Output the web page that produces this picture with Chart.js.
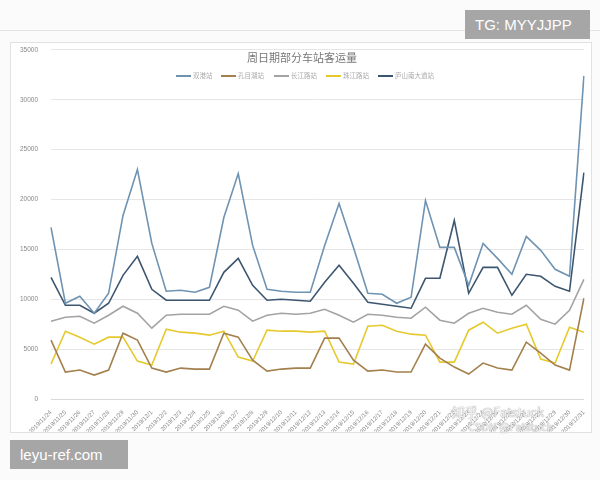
<!DOCTYPE html>
<html>
<head>
<meta charset="utf-8">
<script src="https://cdn.jsdelivr.net/npm/chart.js@4"></script>
<style>
  body { margin: 0; background: #fbfbfb; width: 600px; height: 480px; position: relative; overflow: hidden; font-family: "Noto Sans CJK SC", "Noto Sans", sans-serif; }
  #frame { position: absolute; left: 10px; top: 42px; width: 582px; height: 391px; background: #fff; border: 1px solid #e2e2e2; box-sizing: border-box; }
  #chart { position: absolute; left: 0; top: -10px; }
  #topline { position: absolute; left: 0; top: 30px; width: 600px; height: 1px; background: #e4e4e4; }
  .tag { position: absolute; background: #a6a6a6; color: #fff; font-family: "Liberation Sans", "DejaVu Sans", sans-serif; font-size: 15px; line-height: 29px; padding: 0 10px; }
  .mark { position: absolute; color: rgba(255,255,255,0.85); text-shadow: 0 0 1px #999, 0 0 1px #999; font-size: 13px; }
</style>
</head>
<body>
<div id="topline"></div>
<div id="frame"><canvas id="chart" width="580" height="399"></canvas></div>
<div class="tag" style="left:465px; top:10px; width:105px;">TG: MYYJJPP</div>
<div class="tag" style="left:10px; top:440px; width:98px;">leyu-ref.com</div>
<div class="mark" style="left:452px; top:402px;">知乎 @Fatstuck</div>
<div class="mark" style="left:468px; top:418px; font-size:11px;">CSDN @Fatstuck</div>
<script>
// dates on x axis
const dates = [
    '2019/11/24', '2019/11/25', '2019/11/26', '2019/11/27', '2019/11/28', '2019/11/29', '2019/11/30',
    '2019/12/1', '2019/12/2', '2019/12/3', '2019/12/4', '2019/12/5', '2019/12/6', '2019/12/7',
    '2019/12/8', '2019/12/9', '2019/12/10', '2019/12/11', '2019/12/12', '2019/12/13', '2019/12/14',
    '2019/12/15', '2019/12/16', '2019/12/17', '2019/12/18', '2019/12/19', '2019/12/20', '2019/12/21',
    '2019/12/22', '2019/12/23', '2019/12/24', '2019/12/25', '2019/12/26', '2019/12/27', '2019/12/28',
    '2019/12/29', '2019/12/30', '2019/12/31'
];

const stationNames = ['双港站', '孔目湖站', '长江路站', '珠江路站', '庐山南大道站'];

// passenger counts per station
const shuanggang = [17200, 9600, 10300, 8600, 10600, 18400, 23000, 15600, 10800, 10900, 10700, 11200, 18200, 22600,
    15400, 11000, 10800, 10700, 10700, 15400, 19600, 15200, 10600, 10500, 9600, 10200, 19900, 15200,
    15200, 11400, 15600, 14100, 12500, 16300, 14900, 13000, 12300, 32400];
const kongmuhu = [5900, 2700, 2900, 2400, 2900, 6600, 5900, 3100, 2700, 3100, 3000, 3000, 6600, 6200,
    3900, 2800, 3000, 3100, 3100, 6100, 6100, 3900, 2800, 2900, 2700, 2700, 5500, 4100,
    3200, 2500, 3600, 3100, 2900, 5700, 4600, 3400, 2900, 10100];
const changjianglu = [7800, 8200, 8300, 7600, 8400, 9300, 8600, 7100, 8400, 8500, 8500, 8500, 9300, 8900,
    7800, 8400, 8600, 8500, 8600, 9000, 8400, 7700, 8500, 8400, 8200, 8100, 9200, 7900,
    7600, 8600, 9100, 8700, 8500, 9400, 8000, 7500, 8900, 12000];
const zhujianglu = [3500, 6800, 6200, 5500, 6200, 6200, 3800, 3400, 7000, 6700, 6600, 6400, 6800, 4200,
    3800, 6900, 6800, 6800, 6700, 6800, 3700, 3500, 7300, 7400, 6800, 6500, 6400, 3700,
    3700, 6900, 7700, 6600, 7100, 7500, 4000, 3600, 7200, 6700];
const lushannan = [12200, 9400, 9400, 8600, 9600, 12400, 14300, 11000, 9900, 9900, 9900, 9900, 12700, 14100,
    11400, 9900, 10000, 9900, 9800, 11700, 13400, 11600, 9700, 9500, 9300, 9100, 12100, 12100,
    17900, 10600, 13200, 13200, 10400, 12500, 12300, 11300, 10800, 22700];

const yTicks = [0, 5000, 10000, 15000, 20000, 25000, 30000, 35000];

const seriesValues = [shuanggang, kongmuhu, changjianglu, zhujianglu, lushannan];
const colors = ['#6f93b2', '#a3804e', '#a3a3a3', '#e6c92e', '#3d5670'];

// title and legend sit inside the plot area like in excel
const overlayTitle = {
    id: 'overlayTitle',
    afterDraw(chart) {
        const ctx = chart.ctx;
        ctx.save();
        ctx.fillStyle = '#777';
        ctx.font = '11px "Noto Sans CJK SC"';
        ctx.textAlign = 'center';
        ctx.textBaseline = 'middle';
        ctx.fillText('周日期部分车站客运量', 291, 25);

        const starts = [165, 210, 263, 315, 367];
        ctx.font = '6.5px "Noto Sans CJK SC"';
        ctx.textAlign = 'left';
        chart.data.datasets.forEach((ds, i) => {
            ctx.strokeStyle = ds.borderColor;
            ctx.lineWidth = 2;
            ctx.beginPath();
            ctx.moveTo(starts[i], 43);
            ctx.lineTo(starts[i] + 15, 43);
            ctx.stroke();
            ctx.fillStyle = '#aaa';
            ctx.fillText(ds.label, starts[i] + 17, 43);
        });
        ctx.restore();
    }
};

const myChart = document.getElementById('chart');

let chart = new Chart(myChart, {
    type: 'line',
    data: {
        labels: dates,
        datasets: stationNames.map((name, i) => ({
            label: name,
            data: seriesValues[i],
            borderColor: colors[i],
            backgroundColor: colors[i],
            borderWidth: 1.6,
            pointRadius: 0,
            tension: 0
        }))
    },
    options: {
        responsive: false,
        animation: false,
        layout: { padding: { top: 0, right: 7, left: 0, bottom: 0 } },
        plugins: {
            legend: { display: false },
            title: { display: false },
            tooltip: { enabled: false }
        },
        scales: {
            x: {
                offset: false,
                grid: { display: false },
                border: { color: '#d9d9d9' },
                ticks: {
                    autoSkip: false,
                    maxRotation: 45,
                    minRotation: 45,
                    color: '#888',
                    font: { size: 6, family: 'Liberation Sans' },
                    padding: 2
                },
                afterFit: (scale) => { scale.height = 33; }
            },
            y: {
                min: 0,
                max: 35000,
                afterBuildTicks: (scale) => { scale.ticks = yTicks.map(v => ({ value: v })); },
                grid: { color: '#e6e6e6', drawTicks: false, lineWidth: 1 },
                border: { display: false },
                ticks: {
                    color: '#888',
                    font: { size: 6.5, family: 'Liberation Sans' },
                    padding: 13,
                    callback: (v) => String(v)
                },
                afterFit: (scale) => { scale.width = 40; }
            }
        }
    },
    plugins: [overlayTitle]
});
</script>
</body>
</html>
